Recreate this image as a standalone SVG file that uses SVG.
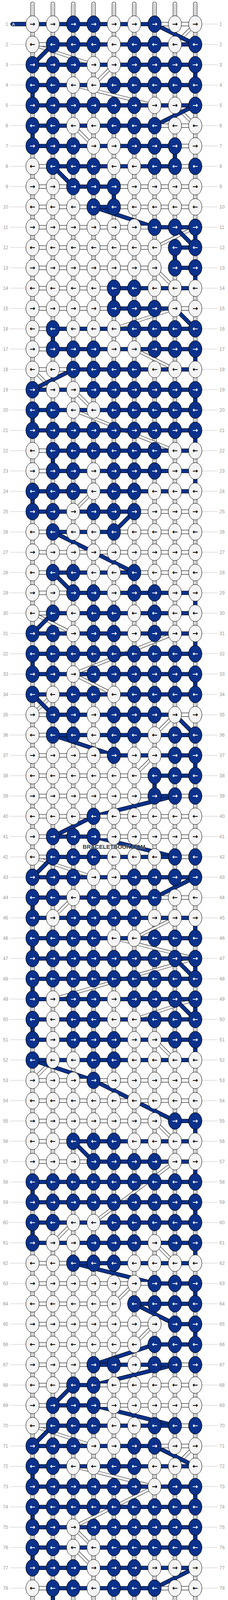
<svg xmlns="http://www.w3.org/2000/svg" width="584" height="4284" viewBox="0 0 584 4284">
<style>
.g{fill:none;stroke:#c4c4c4;stroke-width:1}
.t1{fill:none;stroke:#000;stroke-width:10.5;stroke-linecap:round}
.t2{fill:none;stroke:#f4f4f4;stroke-width:8.5;stroke-linecap:round}
.t3{fill:none;stroke:#9a9a9a;stroke-width:4}
.t4{fill:none;stroke:#f4f4f4;stroke-width:2}
.o{fill:none;stroke:#000;stroke-width:10.5}
.fb{fill:none;stroke:#0a318b;stroke-width:8.5}
.fw{fill:none;stroke:#f4f4f4;stroke-width:8.5}
.ow{fill:none;stroke:#000;stroke-width:8}
.fw2{fill:none;stroke:#f4f4f4;stroke-width:6.2}
.kw{fill:#f4f4f4;stroke:#000;stroke-width:1}
.kb{fill:#0a318b;stroke:#000;stroke-width:1}
.a{font-family:"DejaVu Sans",sans-serif;font-size:17px;font-weight:bold;text-anchor:middle;fill:#000}
.w{fill:#fff}
.ll,.lr{font-family:"Liberation Sans",Arial,sans-serif;font-size:12px;fill:#999}
.ll{text-anchor:end}
.tb{fill:#0a318b;stroke:#000;stroke-width:1}
.tl{fill:#f4f4f4;stroke:#000;stroke-width:1}
.ta{font-family:"Liberation Sans",Arial,sans-serif;font-size:11px;text-anchor:middle}
.wm{font-family:"Liberation Sans",Arial,sans-serif;font-size:14.5px;font-weight:bold;fill:#3c3c3c;stroke:#e8e8e8;stroke-width:.6;paint-order:stroke;text-anchor:middle}
</style>
<defs>
<path id="GD" vector-effect="non-scaling-stroke" d="M-.1 1H10.1M-.1 2H10.1M-.1 3H10.1M-.1 4H10.1M-.1 5H10.1M-.1 6H10.1M-.1 7H10.1M-.1 8H10.1M-.1 9H10.1M-.1 10H10.1M-.1 11H10.1M-.1 12H10.1M-.1 13H10.1M-.1 14H10.1M-.1 15H10.1M-.1 16H10.1M-.1 17H10.1M-.1 18H10.1M-.1 19H10.1M-.1 20H10.1M-.1 21H10.1M-.1 22H10.1M-.1 23H10.1M-.1 24H10.1M-.1 25H10.1M-.1 26H10.1M-.1 27H10.1M-.1 28H10.1M-.1 29H10.1M-.1 30H10.1M-.1 31H10.1M-.1 32H10.1M-.1 33H10.1M-.1 34H10.1M-.1 35H10.1M-.1 36H10.1M-.1 37H10.1M-.1 38H10.1M-.1 39H10.1M-.1 40H10.1M-.1 41H10.1M-.1 42H10.1M-.1 43H10.1M-.1 44H10.1M-.1 45H10.1M-.1 46H10.1M-.1 47H10.1M-.1 48H10.1M-.1 49H10.1M-.1 50H10.1M-.1 51H10.1M-.1 52H10.1M-.1 53H10.1M-.1 54H10.1M-.1 55H10.1M-.1 56H10.1M-.1 57H10.1M-.1 58H10.1M-.1 59H10.1M-.1 60H10.1M-.1 61H10.1M-.1 62H10.1M-.1 63H10.1M-.1 64H10.1M-.1 65H10.1M-.1 66H10.1M-.1 67H10.1M-.1 68H10.1M-.1 69H10.1M-.1 70H10.1M-.1 71H10.1M-.1 72H10.1M-.1 73H10.1M-.1 74H10.1M-.1 75H10.1M-.1 76H10.1M-.1 77H10.1M-.1 78H10.1M-.1 79H10.1M-.1 80H10.1M-.1 81H10.1"/>
<path id="TU" vector-effect="non-scaling-stroke" d="M1 0V82M2 0V82M3 0V82M4 0V82M5 0V82M6 0V82M7 0V82M8 0V82M9 0V82"/>
<path id="WD" vector-effect="non-scaling-stroke" d="M9 1L8 2M1 2L4 3M5 3L4 4M3 4L7 5M8 5L9 6M3 6L4 7M9 11L7 12M7 13L8 14M8 15L5 16M6 17L8 18M1 18L2 19M3 19L4 20M3 20L8 22M4 24L3 25M1 30L3 31M8 31L3 33M3 33L5 34M2 34L1 35M8 35L7 36M7 37L6 38M1 42L4 43M3 44L2 45M8 45L6 46M5 46L9 47M9 47L2 49M9 49L6 50M7 51L8 52M2 52L1 53M7 55L8 56M8 57L4 60M3 60L2 61M7 61L8 62M6 63L5 64M7 65L6 66M1 70L4 71M9 71L8 72M3 72L7 73M7 73L3 75M3 75L4 76M3 76L4 77"/>
<path id="BD" vector-effect="non-scaling-stroke" d="M7 1L9 2M2 2L1 3M9 5L7 6M2 8L3 9M4 10L7 11M8 11L9 12M8 15L9 16M3 18L1 19M6 25L5 26M2 26L6 28M2 28L3 29M2 30L1 31M1 34L2 35M8 35L9 36M2 36L5 37M8 39L4 40M4 40L2 41M4 41L8 42M2 42L1 43M9 43L7 44M8 47L9 48M8 49L9 50M1 52L4 53M4 53L8 55M3 56L4 57M3 62L7 63M6 64L8 65M7 66L4 67M8 67L4 68M3 68L2 69M4 69L8 70M2 70L1 71M7 71L9 72M9 77L7 78M7 79L8 80"/>
<path id="HW" vector-effect="non-scaling-stroke" d="M7 1H9M1 2H2M7 6H9M8 7H9M1 8H2M8 8H9M1 9H3M5 9H9M1 10H4M5 10H9M1 11H7M1 12H7M1 13H7M1 14H5M1 15H5M8 15H9M1 16H2M1 17H2M1 18H3M1 22H2M1 23H2M6 25H9M1 26H2M5 26H9M1 27H9M1 28H2M6 28H9M1 29H3M1 30H2M1 35H2M8 35H9M1 36H2M1 37H5M1 38H7M1 39H7M8 39H9M1 40H9M1 41H2M4 41H9M1 42H2M8 42H9M7 44H9M1 53H9M1 54H9M1 55H7M1 56H3M1 57H4M1 62H3M1 63H7M1 64H5M1 65H7M1 66H6M1 67H4M8 67H9M1 68H3M4 68H9M1 69H2M4 69H9M1 70H2M8 70H9M7 71H9M1 78H2M7 78H9M1 79H2M7 79H9M8 80H9M1 81H9"/>
<path id="HB" vector-effect="non-scaling-stroke" d="M1 1H7M2 2H9M1 3H9M1 4H9M1 5H9M1 6H7M1 7H8M2 8H8M3 9H5M4 10H5M7 11H9M8 12H9M8 13H9M5 14H9M5 15H8M2 16H9M2 17H9M3 18H9M1 19H9M1 20H9M1 21H9M2 22H9M2 23H9M1 24H9M1 25H6M2 26H5M2 28H6M3 29H9M2 30H9M1 31H9M1 32H9M1 33H9M1 34H9M2 35H8M2 36H9M5 37H9M7 38H9M7 39H8M2 41H4M2 42H8M1 43H9M1 44H7M1 45H9M1 46H9M1 47H9M1 48H9M1 49H9M1 50H9M1 51H9M1 52H9M8 55H9M3 56H9M4 57H9M1 58H9M1 59H9M1 60H9M1 61H9M3 62H9M7 63H9M6 64H9M8 65H9M7 66H9M4 67H8M3 68H4M2 69H4M2 70H8M1 71H7M1 72H9M1 73H9M1 74H9M1 75H9M1 76H9M1 77H9M2 78H7M2 79H7M1 80H8"/>
<path id="BV" vector-effect="non-scaling-stroke" d="M9 3V4M1 4V5M1 6V7M8 7V8M5 9V10M9 11V12M8 12V13M9 13V14M5 14V15M2 16V17M9 17V18M9 19V20M1 20V21M9 21V22M2 22V23M9 23V24M1 24V25M9 29V30M9 31V32M1 32V33M9 33V34M9 37V38M7 38V39M1 44V45M9 45V46M1 46V47M9 47V48M1 48V49M9 49V50M1 50V51M9 51V52M9 55V56M9 57V58M1 58V59M9 59V60M1 60V61M9 61V62M9 63V64M9 65V66M1 72V73M9 73V74M1 74V75M9 75V76M1 76V77M2 78V79"/>
<g id="R" class="kw"><ellipse cx="83.3" rx="17" ry="21.4"/><ellipse cx="135.4" rx="17" ry="21.4"/><ellipse cx="187.5" rx="17" ry="21.4"/><ellipse cx="239.6" rx="17" ry="21.4"/><ellipse cx="291.7" rx="17" ry="21.4"/><ellipse cx="343.8" rx="17" ry="21.4"/><ellipse cx="395.9" rx="17" ry="21.4"/><ellipse cx="448" rx="17" ry="21.4"/><ellipse cx="500.1" rx="17" ry="21.4"/></g>
<ellipse id="b1" class="kb" cx="83.3" rx="17" ry="21.4"/>
<ellipse id="b2" class="kb" cx="135.4" rx="17" ry="21.4"/>
<ellipse id="b3" class="kb" cx="187.5" rx="17" ry="21.4"/>
<ellipse id="b4" class="kb" cx="239.6" rx="17" ry="21.4"/>
<ellipse id="b5" class="kb" cx="291.7" rx="17" ry="21.4"/>
<ellipse id="b6" class="kb" cx="343.8" rx="17" ry="21.4"/>
<ellipse id="b7" class="kb" cx="395.9" rx="17" ry="21.4"/>
<ellipse id="b8" class="kb" cx="448" rx="17" ry="21.4"/>
<ellipse id="b9" class="kb" cx="500.1" rx="17" ry="21.4"/>
</defs>
<g id="connectors">
<g transform="matrix(52.1 0 0 52 31.2 9.7)">
<use href="#GD" class="g"/>
<use href="#TU" class="t1"/><use href="#TU" class="t2"/><use href="#TU" class="t3"/><use href="#TU" class="t4"/>
<use href="#WD" class="ow"/><use href="#WD" class="fw2"/>
<use href="#BD" class="o"/><use href="#BD" class="fb"/>
<use href="#HW" class="o"/><use href="#HW" class="fw"/>
<use href="#HB" class="o"/><use href="#HB" class="fb"/>
<use href="#BV" class="o"/><use href="#BV" class="fb"/>
</g>
<rect class="tb" x="27" y="56.7" width="56" height="10" rx="5"/>
<rect class="tb" x="27" y="4164.7" width="56" height="10" rx="5"/>
<rect class="tl" x="500" y="4216.7" width="61" height="10" rx="5"/>
<text class="ta" x="34.5" y="65.6" fill="#fff">A</text>
<text class="ta" x="34.5" y="4173.6" fill="#fff">A</text>
<text class="ta" x="553.5" y="4225.6" fill="#000">B</text>
</g>
<g id="knots">
<g id="row1" transform="translate(0,61.7)"><use href="#R"/><use href="#b3"/><use href="#b4"/><use href="#b7"/><text class="a" y="5.5" x="83 135 188 240 292 344 396 448 500">→→<tspan class="w">→→</tspan>→→<tspan class="w">→</tspan>→→</text><text class="ll" y="4.3" x="21">1</text><text class="lr" y="4.3" x="562">1</text></g>
<g id="row2" transform="translate(0,113.7)"><use href="#R"/><use href="#b2"/><use href="#b3"/><use href="#b4"/><use href="#b6"/><use href="#b7"/><use href="#b9"/><text class="a" y="5.5" x="83 135 188 240 292 344 396 448 500">←<tspan class="w">←←←</tspan>←<tspan class="w">←←</tspan>←<tspan class="w">←</tspan></text><text class="ll" y="4.3" x="21">2</text><text class="lr" y="4.3" x="562">2</text></g>
<g id="row3" transform="translate(0,165.7)"><use href="#R"/><use href="#b1"/><use href="#b2"/><use href="#b3"/><use href="#b6"/><use href="#b7"/><use href="#b8"/><use href="#b9"/><text class="a" y="5.5" x="83 135 188 240 292 344 396 448 500"><tspan class="w">→→→</tspan>→→<tspan class="w">→→→→</tspan></text><text class="ll" y="4.3" x="21">3</text><text class="lr" y="4.3" x="562">3</text></g>
<g id="row4" transform="translate(0,217.7)"><use href="#R"/><use href="#b1"/><use href="#b2"/><use href="#b5"/><use href="#b6"/><use href="#b7"/><use href="#b8"/><use href="#b9"/><text class="a" y="5.5" x="83 135 188 240 292 344 396 448 500"><tspan class="w">←←</tspan>←←<tspan class="w">←←←←←</tspan></text><text class="ll" y="4.3" x="21">4</text><text class="lr" y="4.3" x="562">4</text></g>
<g id="row5" transform="translate(0,269.7)"><use href="#R"/><use href="#b1"/><use href="#b2"/><use href="#b3"/><use href="#b4"/><use href="#b5"/><use href="#b6"/><use href="#b9"/><text class="a" y="5.5" x="83 135 188 240 292 344 396 448 500"><tspan class="w">→→→→→→</tspan>→→<tspan class="w">→</tspan></text><text class="ll" y="4.3" x="21">5</text><text class="lr" y="4.3" x="562">5</text></g>
<g id="row6" transform="translate(0,321.7)"><use href="#R"/><use href="#b1"/><use href="#b2"/><use href="#b5"/><use href="#b6"/><use href="#b7"/><text class="a" y="5.5" x="83 135 188 240 292 344 396 448 500"><tspan class="w">←←</tspan>←←<tspan class="w">←←←</tspan>←←</text><text class="ll" y="4.3" x="21">6</text><text class="lr" y="4.3" x="562">6</text></g>
<g id="row7" transform="translate(0,373.7)"><use href="#R"/><use href="#b1"/><use href="#b2"/><use href="#b3"/><use href="#b6"/><use href="#b7"/><use href="#b8"/><text class="a" y="5.5" x="83 135 188 240 292 344 396 448 500"><tspan class="w">→→→</tspan>→→<tspan class="w">→→→</tspan>→</text><text class="ll" y="4.3" x="21">7</text><text class="lr" y="4.3" x="562">7</text></g>
<g id="row8" transform="translate(0,425.7)"><use href="#R"/><use href="#b2"/><use href="#b3"/><use href="#b4"/><use href="#b7"/><use href="#b8"/><use href="#b9"/><text class="a" y="5.5" x="83 135 188 240 292 344 396 448 500">←<tspan class="w">←←←</tspan>←←<tspan class="w">←←←</tspan></text><text class="ll" y="4.3" x="21">8</text><text class="lr" y="4.3" x="562">8</text></g>
<g id="row9" transform="translate(0,477.7)"><use href="#R"/><use href="#b3"/><use href="#b4"/><use href="#b5"/><text class="a" y="5.5" x="83 135 188 240 292 344 396 448 500">→→<tspan class="w">→→→</tspan>→→→→</text><text class="ll" y="4.3" x="21">9</text><text class="lr" y="4.3" x="562">9</text></g>
<g id="row10" transform="translate(0,529.7)"><use href="#R"/><use href="#b4"/><use href="#b5"/><text class="a" y="5.5" x="83 135 188 240 292 344 396 448 500">←←←<tspan class="w">←←</tspan>←←←←</text><text class="ll" y="4.3" x="21">10</text><text class="lr" y="4.3" x="562">10</text></g>
<g id="row11" transform="translate(0,581.7)"><use href="#R"/><use href="#b7"/><use href="#b8"/><use href="#b9"/><text class="a" y="5.5" x="83 135 188 240 292 344 396 448 500">→→→→→→<tspan class="w">→→→</tspan></text><text class="ll" y="4.3" x="21">11</text><text class="lr" y="4.3" x="562">11</text></g>
<g id="row12" transform="translate(0,633.7)"><use href="#R"/><use href="#b8"/><use href="#b9"/><text class="a" y="5.5" x="83 135 188 240 292 344 396 448 500">←←←←←←←<tspan class="w">←←</tspan></text><text class="ll" y="4.3" x="21">12</text><text class="lr" y="4.3" x="562">12</text></g>
<g id="row13" transform="translate(0,685.7)"><use href="#R"/><use href="#b8"/><use href="#b9"/><text class="a" y="5.5" x="83 135 188 240 292 344 396 448 500">→→→→→→→<tspan class="w">→→</tspan></text><text class="ll" y="4.3" x="21">13</text><text class="lr" y="4.3" x="562">13</text></g>
<g id="row14" transform="translate(0,737.7)"><use href="#R"/><use href="#b5"/><use href="#b6"/><text class="a" y="5.5" x="83 135 188 240 292 344 396 448 500">←←←←<tspan class="w">←←</tspan>←←←</text><text class="ll" y="4.3" x="21">14</text><text class="lr" y="4.3" x="562">14</text></g>
<g id="row15" transform="translate(0,789.7)"><use href="#R"/><use href="#b5"/><use href="#b6"/><use href="#b7"/><text class="a" y="5.5" x="83 135 188 240 292 344 396 448 500">→→→→<tspan class="w">→→→</tspan>→→</text><text class="ll" y="4.3" x="21">15</text><text class="lr" y="4.3" x="562">15</text></g>
<g id="row16" transform="translate(0,841.7)"><use href="#R"/><use href="#b2"/><use href="#b6"/><use href="#b7"/><use href="#b8"/><use href="#b9"/><text class="a" y="5.5" x="83 135 188 240 292 344 396 448 500">←<tspan class="w">←</tspan>←←←<tspan class="w">←←←←</tspan></text><text class="ll" y="4.3" x="21">16</text><text class="lr" y="4.3" x="562">16</text></g>
<g id="row17" transform="translate(0,893.7)"><use href="#R"/><use href="#b2"/><use href="#b3"/><use href="#b4"/><use href="#b7"/><use href="#b8"/><use href="#b9"/><text class="a" y="5.5" x="83 135 188 240 292 344 396 448 500">→<tspan class="w">→→→</tspan>→→<tspan class="w">→→→</tspan></text><text class="ll" y="4.3" x="21">17</text><text class="lr" y="4.3" x="562">17</text></g>
<g id="row18" transform="translate(0,945.7)"><use href="#R"/><use href="#b3"/><use href="#b4"/><use href="#b5"/><use href="#b6"/><text class="a" y="5.5" x="83 135 188 240 292 344 396 448 500">←←<tspan class="w">←←←←</tspan>←←←</text><text class="ll" y="4.3" x="21">18</text><text class="lr" y="4.3" x="562">18</text></g>
<g id="row19" transform="translate(0,997.7)"><use href="#R"/><use href="#b1"/><use href="#b4"/><use href="#b5"/><use href="#b6"/><use href="#b7"/><use href="#b8"/><use href="#b9"/><text class="a" y="5.5" x="83 135 188 240 292 344 396 448 500"><tspan class="w">→</tspan>→→<tspan class="w">→→→→→→</tspan></text><text class="ll" y="4.3" x="21">19</text><text class="lr" y="4.3" x="562">19</text></g>
<g id="row20" transform="translate(0,1049.7)"><use href="#R"/><use href="#b1"/><use href="#b2"/><use href="#b5"/><use href="#b6"/><use href="#b7"/><use href="#b8"/><use href="#b9"/><text class="a" y="5.5" x="83 135 188 240 292 344 396 448 500"><tspan class="w">←←</tspan>←←<tspan class="w">←←←←←</tspan></text><text class="ll" y="4.3" x="21">20</text><text class="lr" y="4.3" x="562">20</text></g>
<g id="row21" transform="translate(0,1101.7)"><use href="#R"/><use href="#b1"/><use href="#b2"/><use href="#b3"/><use href="#b4"/><use href="#b5"/><use href="#b6"/><use href="#b7"/><use href="#b8"/><use href="#b9"/><text class="a w" y="5.5" x="83 135 188 240 292 344 396 448 500">→→→→→→→→→</text><text class="ll" y="4.3" x="21">21</text><text class="lr" y="4.3" x="562">21</text></g>
<g id="row22" transform="translate(0,1153.7)"><use href="#R"/><use href="#b2"/><use href="#b3"/><use href="#b4"/><use href="#b5"/><use href="#b6"/><use href="#b7"/><text class="a" y="5.5" x="83 135 188 240 292 344 396 448 500">←<tspan class="w">←←←←←←</tspan>←←</text><text class="ll" y="4.3" x="21">22</text><text class="lr" y="4.3" x="562">22</text></g>
<g id="row23" transform="translate(0,1205.7)"><use href="#R"/><use href="#b2"/><use href="#b3"/><use href="#b5"/><use href="#b6"/><use href="#b7"/><text class="a" y="5.5" x="83 135 188 240 292 344 396 448 500">→<tspan class="w">→→</tspan>→<tspan class="w">→→→</tspan>→→</text><text class="ll" y="4.3" x="21">23</text><text class="lr" y="4.3" x="562">23</text></g>
<g id="row24" transform="translate(0,1257.7)"><use href="#R"/><use href="#b1"/><use href="#b2"/><use href="#b3"/><use href="#b5"/><use href="#b6"/><text class="a" y="5.5" x="83 135 188 240 292 344 396 448 500"><tspan class="w">←←←</tspan>←<tspan class="w">←←</tspan>←←←</text><text class="ll" y="4.3" x="21">24</text><text class="lr" y="4.3" x="562">24</text></g>
<g id="row25" transform="translate(0,1309.7)"><use href="#R"/><use href="#b1"/><use href="#b2"/><use href="#b4"/><use href="#b5"/><use href="#b6"/><text class="a" y="5.5" x="83 135 188 240 292 344 396 448 500"><tspan class="w">→→</tspan>→<tspan class="w">→→→</tspan>→→→</text><text class="ll" y="4.3" x="21">25</text><text class="lr" y="4.3" x="562">25</text></g>
<g id="row26" transform="translate(0,1361.7)"><use href="#R"/><use href="#b2"/><use href="#b5"/><text class="a" y="5.5" x="83 135 188 240 292 344 396 448 500">←<tspan class="w">←</tspan>←←<tspan class="w">←</tspan>←←←←</text><text class="ll" y="4.3" x="21">26</text><text class="lr" y="4.3" x="562">26</text></g>
<g id="row27" transform="translate(0,1413.7)"><use href="#R"/><text class="a" y="5.5" x="83 135 188 240 292 344 396 448 500">→→→→→→→→→</text><text class="ll" y="4.3" x="21">27</text><text class="lr" y="4.3" x="562">27</text></g>
<g id="row28" transform="translate(0,1465.7)"><use href="#R"/><use href="#b2"/><use href="#b3"/><use href="#b6"/><text class="a" y="5.5" x="83 135 188 240 292 344 396 448 500">←<tspan class="w">←←</tspan>←←<tspan class="w">←</tspan>←←←</text><text class="ll" y="4.3" x="21">28</text><text class="lr" y="4.3" x="562">28</text></g>
<g id="row29" transform="translate(0,1517.7)"><use href="#R"/><use href="#b3"/><use href="#b4"/><use href="#b6"/><use href="#b7"/><text class="a" y="5.5" x="83 135 188 240 292 344 396 448 500">→→<tspan class="w">→→</tspan>→<tspan class="w">→→</tspan>→→</text><text class="ll" y="4.3" x="21">29</text><text class="lr" y="4.3" x="562">29</text></g>
<g id="row30" transform="translate(0,1569.7)"><use href="#R"/><use href="#b2"/><use href="#b4"/><use href="#b5"/><use href="#b7"/><text class="a" y="5.5" x="83 135 188 240 292 344 396 448 500">←<tspan class="w">←</tspan>←<tspan class="w">←←</tspan>←<tspan class="w">←</tspan>←←</text><text class="ll" y="4.3" x="21">30</text><text class="lr" y="4.3" x="562">30</text></g>
<g id="row31" transform="translate(0,1621.7)"><use href="#R"/><use href="#b1"/><use href="#b2"/><use href="#b4"/><use href="#b5"/><use href="#b7"/><text class="a" y="5.5" x="83 135 188 240 292 344 396 448 500"><tspan class="w">→→</tspan>→<tspan class="w">→→</tspan>→<tspan class="w">→</tspan>→→</text><text class="ll" y="4.3" x="21">31</text><text class="lr" y="4.3" x="562">31</text></g>
<g id="row32" transform="translate(0,1673.7)"><use href="#R"/><use href="#b1"/><use href="#b2"/><use href="#b3"/><use href="#b4"/><use href="#b5"/><use href="#b6"/><use href="#b7"/><use href="#b8"/><use href="#b9"/><text class="a w" y="5.5" x="83 135 188 240 292 344 396 448 500">←←←←←←←←←</text><text class="ll" y="4.3" x="21">32</text><text class="lr" y="4.3" x="562">32</text></g>
<g id="row33" transform="translate(0,1725.7)"><use href="#R"/><use href="#b1"/><use href="#b2"/><use href="#b4"/><use href="#b5"/><use href="#b6"/><use href="#b7"/><use href="#b8"/><use href="#b9"/><text class="a" y="5.5" x="83 135 188 240 292 344 396 448 500"><tspan class="w">→→</tspan>→<tspan class="w">→→→→→→</tspan></text><text class="ll" y="4.3" x="21">33</text><text class="lr" y="4.3" x="562">33</text></g>
<g id="row34" transform="translate(0,1777.7)"><use href="#R"/><use href="#b1"/><use href="#b3"/><use href="#b4"/><use href="#b6"/><use href="#b7"/><use href="#b8"/><use href="#b9"/><text class="a" y="5.5" x="83 135 188 240 292 344 396 448 500"><tspan class="w">←</tspan>←<tspan class="w">←←</tspan>←<tspan class="w">←←←←</tspan></text><text class="ll" y="4.3" x="21">34</text><text class="lr" y="4.3" x="562">34</text></g>
<g id="row35" transform="translate(0,1829.7)"><use href="#R"/><use href="#b2"/><use href="#b3"/><use href="#b5"/><use href="#b6"/><use href="#b7"/><text class="a" y="5.5" x="83 135 188 240 292 344 396 448 500">→<tspan class="w">→→</tspan>→<tspan class="w">→→→</tspan>→→</text><text class="ll" y="4.3" x="21">35</text><text class="lr" y="4.3" x="562">35</text></g>
<g id="row36" transform="translate(0,1881.7)"><use href="#R"/><use href="#b2"/><use href="#b3"/><use href="#b5"/><use href="#b6"/><use href="#b8"/><use href="#b9"/><text class="a" y="5.5" x="83 135 188 240 292 344 396 448 500">←<tspan class="w">←←</tspan>←<tspan class="w">←←</tspan>←<tspan class="w">←←</tspan></text><text class="ll" y="4.3" x="21">36</text><text class="lr" y="4.3" x="562">36</text></g>
<g id="row37" transform="translate(0,1933.7)"><use href="#R"/><use href="#b5"/><use href="#b8"/><use href="#b9"/><text class="a" y="5.5" x="83 135 188 240 292 344 396 448 500">→→→→<tspan class="w">→</tspan>→→<tspan class="w">→→</tspan></text><text class="ll" y="4.3" x="21">37</text><text class="lr" y="4.3" x="562">37</text></g>
<g id="row38" transform="translate(0,1985.7)"><use href="#R"/><use href="#b7"/><use href="#b8"/><use href="#b9"/><text class="a" y="5.5" x="83 135 188 240 292 344 396 448 500">←←←←←←<tspan class="w">←←←</tspan></text><text class="ll" y="4.3" x="21">38</text><text class="lr" y="4.3" x="562">38</text></g>
<g id="row39" transform="translate(0,2037.7)"><use href="#R"/><use href="#b7"/><use href="#b8"/><use href="#b9"/><text class="a" y="5.5" x="83 135 188 240 292 344 396 448 500">→→→→→→<tspan class="w">→→→</tspan></text><text class="ll" y="4.3" x="21">39</text><text class="lr" y="4.3" x="562">39</text></g>
<g id="row40" transform="translate(0,2089.7)"><use href="#R"/><use href="#b4"/><text class="a" y="5.5" x="83 135 188 240 292 344 396 448 500">←←←<tspan class="w">←</tspan>←←←←←</text><text class="ll" y="4.3" x="21">40</text><text class="lr" y="4.3" x="562">40</text></g>
<g id="row41" transform="translate(0,2141.7)"><use href="#R"/><use href="#b2"/><use href="#b3"/><use href="#b4"/><text class="a" y="5.5" x="83 135 188 240 292 344 396 448 500">→<tspan class="w">→→→</tspan>→→→→→</text><text class="ll" y="4.3" x="21">41</text><text class="lr" y="4.3" x="562">41</text></g>
<g id="row42" transform="translate(0,2193.7)"><use href="#R"/><use href="#b2"/><use href="#b3"/><use href="#b4"/><use href="#b8"/><use href="#b9"/><text class="a" y="5.5" x="83 135 188 240 292 344 396 448 500">←<tspan class="w">←←←</tspan>←←←<tspan class="w">←←</tspan></text><text class="ll" y="4.3" x="21">42</text><text class="lr" y="4.3" x="562">42</text></g>
<g id="row43" transform="translate(0,2245.7)"><use href="#R"/><use href="#b1"/><use href="#b2"/><use href="#b3"/><use href="#b6"/><use href="#b7"/><use href="#b8"/><use href="#b9"/><text class="a" y="5.5" x="83 135 188 240 292 344 396 448 500"><tspan class="w">→→→</tspan>→→<tspan class="w">→→→→</tspan></text><text class="ll" y="4.3" x="21">43</text><text class="lr" y="4.3" x="562">43</text></g>
<g id="row44" transform="translate(0,2297.7)"><use href="#R"/><use href="#b1"/><use href="#b2"/><use href="#b4"/><use href="#b5"/><use href="#b6"/><use href="#b7"/><text class="a" y="5.5" x="83 135 188 240 292 344 396 448 500"><tspan class="w">←←</tspan>←<tspan class="w">←←←←</tspan>←←</text><text class="ll" y="4.3" x="21">44</text><text class="lr" y="4.3" x="562">44</text></g>
<g id="row45" transform="translate(0,2349.7)"><use href="#R"/><use href="#b1"/><use href="#b3"/><use href="#b4"/><use href="#b5"/><use href="#b6"/><text class="a" y="5.5" x="83 135 188 240 292 344 396 448 500"><tspan class="w">→</tspan>→<tspan class="w">→→→→</tspan>→→→</text><text class="ll" y="4.3" x="21">45</text><text class="lr" y="4.3" x="562">45</text></g>
<g id="row46" transform="translate(0,2401.7)"><use href="#R"/><use href="#b1"/><use href="#b2"/><use href="#b3"/><use href="#b4"/><use href="#b7"/><use href="#b8"/><use href="#b9"/><text class="a" y="5.5" x="83 135 188 240 292 344 396 448 500"><tspan class="w">←←←←</tspan>←←<tspan class="w">←←←</tspan></text><text class="ll" y="4.3" x="21">46</text><text class="lr" y="4.3" x="562">46</text></g>
<g id="row47" transform="translate(0,2453.7)"><use href="#R"/><use href="#b1"/><use href="#b2"/><use href="#b3"/><use href="#b4"/><use href="#b5"/><use href="#b6"/><use href="#b7"/><use href="#b8"/><use href="#b9"/><text class="a w" y="5.5" x="83 135 188 240 292 344 396 448 500">→→→→→→→→→</text><text class="ll" y="4.3" x="21">47</text><text class="lr" y="4.3" x="562">47</text></g>
<g id="row48" transform="translate(0,2505.7)"><use href="#R"/><use href="#b1"/><use href="#b2"/><use href="#b3"/><use href="#b4"/><use href="#b5"/><use href="#b6"/><use href="#b7"/><use href="#b8"/><use href="#b9"/><text class="a w" y="5.5" x="83 135 188 240 292 344 396 448 500">←←←←←←←←←</text><text class="ll" y="4.3" x="21">48</text><text class="lr" y="4.3" x="562">48</text></g>
<g id="row49" transform="translate(0,2557.7)"><use href="#R"/><use href="#b1"/><use href="#b3"/><use href="#b4"/><use href="#b6"/><use href="#b7"/><use href="#b8"/><use href="#b9"/><text class="a" y="5.5" x="83 135 188 240 292 344 396 448 500"><tspan class="w">→</tspan>→<tspan class="w">→→</tspan>→<tspan class="w">→→→→</tspan></text><text class="ll" y="4.3" x="21">49</text><text class="lr" y="4.3" x="562">49</text></g>
<g id="row50" transform="translate(0,2609.7)"><use href="#R"/><use href="#b1"/><use href="#b3"/><use href="#b4"/><use href="#b7"/><use href="#b8"/><use href="#b9"/><text class="a" y="5.5" x="83 135 188 240 292 344 396 448 500"><tspan class="w">←</tspan>←<tspan class="w">←←</tspan>←←<tspan class="w">←←←</tspan></text><text class="ll" y="4.3" x="21">50</text><text class="lr" y="4.3" x="562">50</text></g>
<g id="row51" transform="translate(0,2661.7)"><use href="#R"/><use href="#b1"/><use href="#b3"/><use href="#b4"/><use href="#b5"/><use href="#b8"/><use href="#b9"/><text class="a" y="5.5" x="83 135 188 240 292 344 396 448 500"><tspan class="w">→</tspan>→<tspan class="w">→→→</tspan>→→<tspan class="w">→→</tspan></text><text class="ll" y="4.3" x="21">51</text><text class="lr" y="4.3" x="562">51</text></g>
<g id="row52" transform="translate(0,2713.7)"><use href="#R"/><use href="#b1"/><use href="#b4"/><use href="#b5"/><text class="a" y="5.5" x="83 135 188 240 292 344 396 448 500"><tspan class="w">←</tspan>←←<tspan class="w">←←</tspan>←←←←</text><text class="ll" y="4.3" x="21">52</text><text class="lr" y="4.3" x="562">52</text></g>
<g id="row53" transform="translate(0,2765.7)"><use href="#R"/><use href="#b4"/><text class="a" y="5.5" x="83 135 188 240 292 344 396 448 500">→→→<tspan class="w">→</tspan>→→→→→</text><text class="ll" y="4.3" x="21">53</text><text class="lr" y="4.3" x="562">53</text></g>
<g id="row54" transform="translate(0,2817.7)"><use href="#R"/><text class="a" y="5.5" x="83 135 188 240 292 344 396 448 500">←←←←←←←←←</text><text class="ll" y="4.3" x="21">54</text><text class="lr" y="4.3" x="562">54</text></g>
<g id="row55" transform="translate(0,2869.7)"><use href="#R"/><use href="#b8"/><use href="#b9"/><text class="a" y="5.5" x="83 135 188 240 292 344 396 448 500">→→→→→→→<tspan class="w">→→</tspan></text><text class="ll" y="4.3" x="21">55</text><text class="lr" y="4.3" x="562">55</text></g>
<g id="row56" transform="translate(0,2921.7)"><use href="#R"/><use href="#b3"/><use href="#b4"/><use href="#b5"/><text class="a" y="5.5" x="83 135 188 240 292 344 396 448 500">←←<tspan class="w">←←←</tspan>←←←←</text><text class="ll" y="4.3" x="21">56</text><text class="lr" y="4.3" x="562">56</text></g>
<g id="row57" transform="translate(0,2973.7)"><use href="#R"/><use href="#b4"/><use href="#b5"/><use href="#b6"/><use href="#b7"/><text class="a" y="5.5" x="83 135 188 240 292 344 396 448 500">→→→<tspan class="w">→→→→</tspan>→→</text><text class="ll" y="4.3" x="21">57</text><text class="lr" y="4.3" x="562">57</text></g>
<g id="row58" transform="translate(0,3025.7)"><use href="#R"/><use href="#b1"/><use href="#b2"/><use href="#b3"/><use href="#b4"/><use href="#b5"/><use href="#b6"/><use href="#b7"/><use href="#b8"/><use href="#b9"/><text class="a w" y="5.5" x="83 135 188 240 292 344 396 448 500">←←←←←←←←←</text><text class="ll" y="4.3" x="21">58</text><text class="lr" y="4.3" x="562">58</text></g>
<g id="row59" transform="translate(0,3077.7)"><use href="#R"/><use href="#b1"/><use href="#b2"/><use href="#b3"/><use href="#b4"/><use href="#b5"/><use href="#b6"/><use href="#b7"/><use href="#b8"/><use href="#b9"/><text class="a w" y="5.5" x="83 135 188 240 292 344 396 448 500">→→→→→→→→→</text><text class="ll" y="4.3" x="21">59</text><text class="lr" y="4.3" x="562">59</text></g>
<g id="row60" transform="translate(0,3129.7)"><use href="#R"/><use href="#b1"/><use href="#b2"/><use href="#b5"/><use href="#b6"/><use href="#b7"/><use href="#b8"/><use href="#b9"/><text class="a" y="5.5" x="83 135 188 240 292 344 396 448 500"><tspan class="w">←←</tspan>←←<tspan class="w">←←←←←</tspan></text><text class="ll" y="4.3" x="21">60</text><text class="lr" y="4.3" x="562">60</text></g>
<g id="row61" transform="translate(0,3181.7)"><use href="#R"/><use href="#b1"/><use href="#b4"/><use href="#b5"/><use href="#b6"/><use href="#b8"/><use href="#b9"/><text class="a" y="5.5" x="83 135 188 240 292 344 396 448 500"><tspan class="w">→</tspan>→→<tspan class="w">→→→</tspan>→<tspan class="w">→→</tspan></text><text class="ll" y="4.3" x="21">61</text><text class="lr" y="4.3" x="562">61</text></g>
<g id="row62" transform="translate(0,3233.7)"><use href="#R"/><use href="#b3"/><use href="#b4"/><use href="#b5"/><text class="a" y="5.5" x="83 135 188 240 292 344 396 448 500">←←<tspan class="w">←←←</tspan>←←←←</text><text class="ll" y="4.3" x="21">62</text><text class="lr" y="4.3" x="562">62</text></g>
<g id="row63" transform="translate(0,3285.7)"><use href="#R"/><use href="#b7"/><use href="#b8"/><use href="#b9"/><text class="a" y="5.5" x="83 135 188 240 292 344 396 448 500">→→→→→→<tspan class="w">→→→</tspan></text><text class="ll" y="4.3" x="21">63</text><text class="lr" y="4.3" x="562">63</text></g>
<g id="row64" transform="translate(0,3337.7)"><use href="#R"/><use href="#b6"/><use href="#b7"/><use href="#b8"/><use href="#b9"/><text class="a" y="5.5" x="83 135 188 240 292 344 396 448 500">←←←←←<tspan class="w">←←←←</tspan></text><text class="ll" y="4.3" x="21">64</text><text class="lr" y="4.3" x="562">64</text></g>
<g id="row65" transform="translate(0,3389.7)"><use href="#R"/><use href="#b8"/><use href="#b9"/><text class="a" y="5.5" x="83 135 188 240 292 344 396 448 500">→→→→→→→<tspan class="w">→→</tspan></text><text class="ll" y="4.3" x="21">65</text><text class="lr" y="4.3" x="562">65</text></g>
<g id="row66" transform="translate(0,3441.7)"><use href="#R"/><use href="#b7"/><use href="#b8"/><use href="#b9"/><text class="a" y="5.5" x="83 135 188 240 292 344 396 448 500">←←←←←←<tspan class="w">←←←</tspan></text><text class="ll" y="4.3" x="21">66</text><text class="lr" y="4.3" x="562">66</text></g>
<g id="row67" transform="translate(0,3493.7)"><use href="#R"/><use href="#b4"/><use href="#b5"/><use href="#b7"/><use href="#b8"/><use href="#b9"/><text class="a" y="5.5" x="83 135 188 240 292 344 396 448 500">→→→<tspan class="w">→→</tspan>→<tspan class="w">→→→</tspan></text><text class="ll" y="4.3" x="21">67</text><text class="lr" y="4.3" x="562">67</text></g>
<g id="row68" transform="translate(0,3545.7)"><use href="#R"/><use href="#b3"/><use href="#b4"/><text class="a" y="5.5" x="83 135 188 240 292 344 396 448 500">←←<tspan class="w">←←</tspan>←←←←←</text><text class="ll" y="4.3" x="21">68</text><text class="lr" y="4.3" x="562">68</text></g>
<g id="row69" transform="translate(0,3597.7)"><use href="#R"/><use href="#b2"/><use href="#b3"/><use href="#b4"/><text class="a" y="5.5" x="83 135 188 240 292 344 396 448 500">→<tspan class="w">→→→</tspan>→→→→→</text><text class="ll" y="4.3" x="21">69</text><text class="lr" y="4.3" x="562">69</text></g>
<g id="row70" transform="translate(0,3649.7)"><use href="#R"/><use href="#b2"/><use href="#b3"/><use href="#b4"/><use href="#b7"/><use href="#b8"/><use href="#b9"/><text class="a" y="5.5" x="83 135 188 240 292 344 396 448 500">←<tspan class="w">←←←</tspan>←←<tspan class="w">←←←</tspan></text><text class="ll" y="4.3" x="21">70</text><text class="lr" y="4.3" x="562">70</text></g>
<g id="row71" transform="translate(0,3701.7)"><use href="#R"/><use href="#b1"/><use href="#b2"/><use href="#b3"/><use href="#b6"/><use href="#b7"/><text class="a" y="5.5" x="83 135 188 240 292 344 396 448 500"><tspan class="w">→→→</tspan>→→<tspan class="w">→→</tspan>→→</text><text class="ll" y="4.3" x="21">71</text><text class="lr" y="4.3" x="562">71</text></g>
<g id="row72" transform="translate(0,3753.7)"><use href="#R"/><use href="#b1"/><use href="#b2"/><use href="#b5"/><use href="#b6"/><text class="a" y="5.5" x="83 135 188 240 292 344 396 448 500"><tspan class="w">←←</tspan>←←<tspan class="w">←←</tspan>←←←</text><text class="ll" y="4.3" x="21">72</text><text class="lr" y="4.3" x="562">72</text></g>
<g id="row73" transform="translate(0,3805.7)"><use href="#R"/><use href="#b1"/><use href="#b2"/><use href="#b3"/><use href="#b4"/><use href="#b5"/><use href="#b6"/><use href="#b8"/><use href="#b9"/><text class="a" y="5.5" x="83 135 188 240 292 344 396 448 500"><tspan class="w">→→→→→→</tspan>→<tspan class="w">→→</tspan></text><text class="ll" y="4.3" x="21">73</text><text class="lr" y="4.3" x="562">73</text></g>
<g id="row74" transform="translate(0,3857.7)"><use href="#R"/><use href="#b1"/><use href="#b2"/><use href="#b3"/><use href="#b4"/><use href="#b5"/><use href="#b6"/><use href="#b7"/><use href="#b8"/><use href="#b9"/><text class="a w" y="5.5" x="83 135 188 240 292 344 396 448 500">←←←←←←←←←</text><text class="ll" y="4.3" x="21">74</text><text class="lr" y="4.3" x="562">74</text></g>
<g id="row75" transform="translate(0,3909.7)"><use href="#R"/><use href="#b1"/><use href="#b2"/><use href="#b4"/><use href="#b5"/><use href="#b6"/><use href="#b7"/><use href="#b8"/><use href="#b9"/><text class="a" y="5.5" x="83 135 188 240 292 344 396 448 500"><tspan class="w">→→</tspan>→<tspan class="w">→→→→→→</tspan></text><text class="ll" y="4.3" x="21">75</text><text class="lr" y="4.3" x="562">75</text></g>
<g id="row76" transform="translate(0,3961.7)"><use href="#R"/><use href="#b1"/><use href="#b2"/><use href="#b5"/><use href="#b6"/><use href="#b7"/><use href="#b8"/><use href="#b9"/><text class="a" y="5.5" x="83 135 188 240 292 344 396 448 500"><tspan class="w">←←</tspan>←←<tspan class="w">←←←←←</tspan></text><text class="ll" y="4.3" x="21">76</text><text class="lr" y="4.3" x="562">76</text></g>
<g id="row77" transform="translate(0,4013.7)"><use href="#R"/><use href="#b1"/><use href="#b2"/><use href="#b3"/><use href="#b5"/><use href="#b6"/><text class="a" y="5.5" x="83 135 188 240 292 344 396 448 500"><tspan class="w">→→→</tspan>→<tspan class="w">→→</tspan>→→→</text><text class="ll" y="4.3" x="21">77</text><text class="lr" y="4.3" x="562">77</text></g>
<g id="row78" transform="translate(0,4065.7)"><use href="#R"/><use href="#b2"/><use href="#b3"/><use href="#b5"/><use href="#b6"/><use href="#b7"/><text class="a" y="5.5" x="83 135 188 240 292 344 396 448 500">←<tspan class="w">←←</tspan>←<tspan class="w">←←←</tspan>←←</text><text class="ll" y="4.3" x="21">78</text><text class="lr" y="4.3" x="562">78</text></g>
<g id="row79" transform="translate(0,4117.7)"><use href="#R"/><use href="#b2"/><use href="#b3"/><use href="#b6"/><use href="#b7"/><text class="a" y="5.5" x="83 135 188 240 292 344 396 448 500">→<tspan class="w">→→</tspan>→→<tspan class="w">→→</tspan>→→</text><text class="ll" y="4.3" x="21">79</text><text class="lr" y="4.3" x="562">79</text></g>
<g id="row80" transform="translate(0,4169.7)"><use href="#R"/><use href="#b3"/><use href="#b4"/><use href="#b7"/><use href="#b8"/><text class="a" y="5.5" x="83 135 188 240 292 344 396 448 500">←←<tspan class="w">←←</tspan>←←<tspan class="w">←←</tspan>←</text><text class="ll" y="4.3" x="21">80</text><text class="lr" y="4.3" x="562">80</text></g>
<g id="row81" transform="translate(0,4221.7)"><use href="#R"/><text class="a" y="5.5" x="83 135 188 240 292 344 396 448 500">→→→→→→→→→</text><text class="ll" y="4.3" x="21">81</text><text class="lr" y="4.3" x="562">81</text></g>
</g>
<text class="wm" x="292" y="2172.5">BRACELETBOOK.COM</text>
</svg>
